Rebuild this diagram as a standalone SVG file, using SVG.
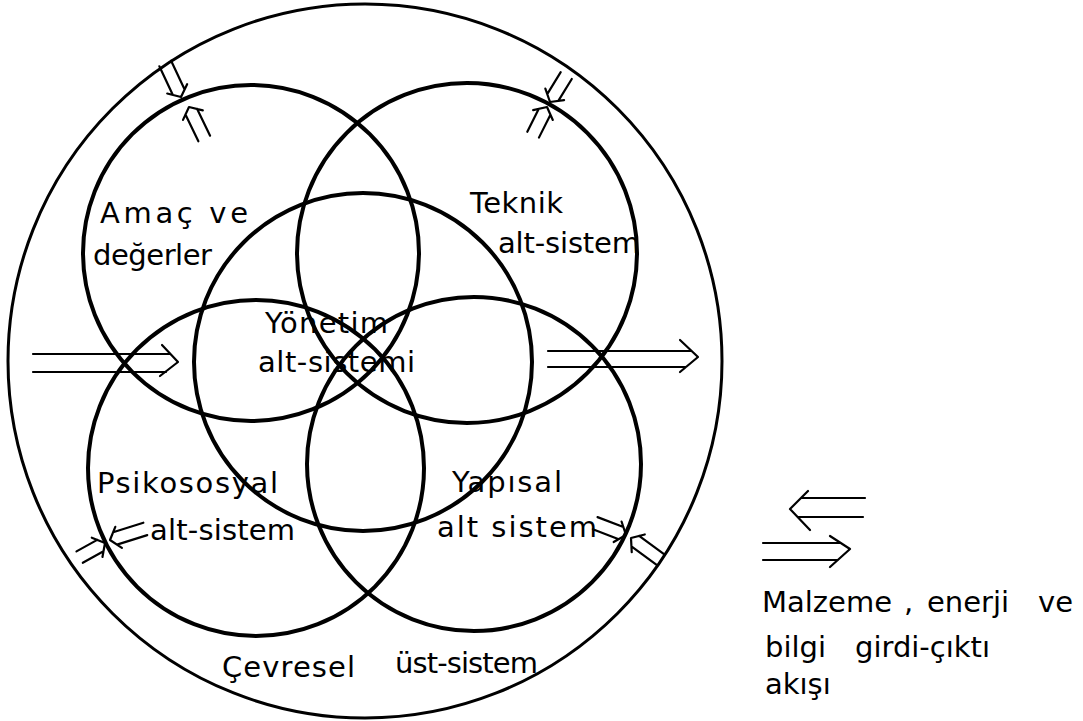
<svg xmlns="http://www.w3.org/2000/svg" width="1083" height="721" viewBox="0 0 1083 721">
<style>
.bg{fill:#fff}
.sys{fill:none;stroke:#000;stroke-width:4}
.outer{fill:none;stroke:#000;stroke-width:3}
.arrow{fill:none;stroke:#000;stroke-width:2.2;stroke-linecap:round;stroke-linejoin:round}
text{font-family:"DejaVu Sans","Liberation Sans",sans-serif;font-size:29px;fill:#000}
</style>
<rect class="bg" x="0" y="0" width="1083" height="721"/>
<g id="cevresel-ust-sistem">
<circle class="outer" cx="365" cy="361" r="357"/>
<text x="222" y="677" textLength="133">Çevresel</text>
<text x="395" y="673" textLength="143">üst-sistem</text>
</g>
<g id="amac-ve-degerler">
<circle class="sys" cx="251" cy="253" r="168"/>
<text x="100" y="223" textLength="148">Amaç  ve</text>
<text x="93" y="265" textLength="119">değerler</text>
</g>
<g id="teknik-alt-sistem">
<circle class="sys" cx="467" cy="253" r="170"/>
<text x="470" y="213" textLength="93">Teknik</text>
<text x="498" y="253" textLength="142">alt-sistem</text>
</g>
<g id="yonetim-alt-sistemi">
<circle class="sys" cx="363" cy="362" r="169"/>
<text x="265" y="333" textLength="123">Yönetim</text>
<text x="258" y="372" textLength="157">alt-sistemi</text>
</g>
<g id="psikososyal-alt-sistem">
<circle class="sys" cx="256" cy="468" r="168"/>
<text x="97" y="493" textLength="181">Psikososyal</text>
<text x="150" y="540" textLength="145">alt-sistem</text>
</g>
<g id="yapisal-alt-sistem">
<circle class="sys" cx="474" cy="464" r="167"/>
<text x="452" y="492" textLength="110">Yapısal</text>
<text x="437" y="537" textLength="160">alt sistem</text>
</g>
<g id="connectors">
<path class="arrow" d="M33,354 H170 M33,372 H166 M162,345 L178,362 L160,376"/>
<path class="arrow" d="M548,351 H691 M548,367 H686 M680,340 L698,357 L680,372"/>
<path class="arrow" transform="translate(181,97) rotate(64.8)" d="M-37,-6.5 L-5.3,-6.5 M-37,6.5 L-5.3,6.5 M-9,-11 L0,0 L-9,11"/>
<path class="arrow" transform="translate(189,107) rotate(-115.8)" d="M-35,-6.5 L-5.3,-6.5 M-35,6.5 L-5.3,6.5 M-9,-11 L0,0 L-9,11"/>
<path class="arrow" transform="translate(550,102) rotate(121.6)" d="M-31,-6.5 L-5.3,-6.5 M-31,6.5 L-5.3,6.5 M-9,-11 L0,0 L-9,11"/>
<path class="arrow" transform="translate(547,107) rotate(-63.4)" d="M-31,-6.5 L-5.3,-6.5 M-31,6.5 L-5.3,6.5 M-9,-11 L0,0 L-9,11"/>
<path class="arrow" transform="translate(105,543) rotate(-29)" d="M-29,-6.5 L-5.3,-6.5 M-29,6.5 L-5.3,6.5 M-9,-11 L0,0 L-9,11"/>
<path class="arrow" transform="translate(110,540) rotate(162.6)" d="M-37,-6.5 L-5.3,-6.5 M-37,6.5 L-5.3,6.5 M-9,-11 L0,0 L-9,11"/>
<path class="arrow" transform="translate(626,535) rotate(21)" d="M-33,-6.5 L-5.3,-6.5 M-33,6.5 L-5.3,6.5 M-9,-11 L0,0 L-9,11"/>
<path class="arrow" transform="translate(631,538) rotate(-143.7)" d="M-37,-6.5 L-5.3,-6.5 M-37,6.5 L-5.3,6.5 M-9,-11 L0,0 L-9,11"/>
</g>
<g id="legend">
<path class="arrow" d="M865,498 H801 M863,517 H798 M808,491 L790,509 L810,530"/>
<path class="arrow" d="M763,543 H840 M763,560 H838 M830,536 L850,549 L830,567"/>
<text y="612"><tspan x="762">Malzeme</tspan><tspan x="904">,</tspan><tspan x="927">enerji</tspan><tspan x="1038">ve</tspan></text>
<text y="657"><tspan x="765">bilgi</tspan><tspan x="855">girdi-çıktı</tspan></text>
<text x="765" y="694">akışı</text>
</g>
</svg>
